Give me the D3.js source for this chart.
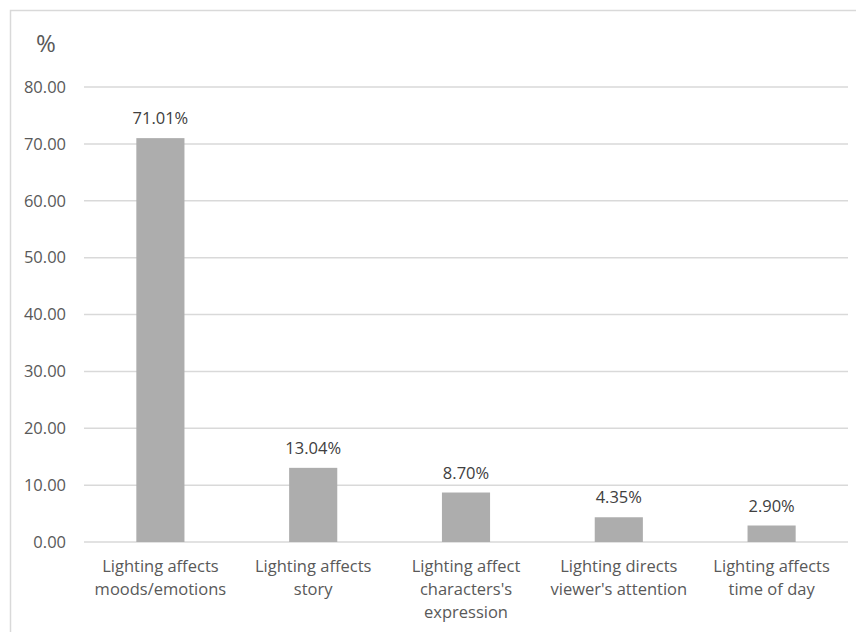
<!DOCTYPE html>
<html>
<head>
<meta charset="utf-8">
<script src="https://cdn.jsdelivr.net/npm/d3@7"></script>
<style>
  body { margin: 0; background: #fff; }
  svg { display: block; font-family: "Open Sans", "Noto Sans", sans-serif; }
</style>
</head>
<body>
<svg class="chart"></svg>
<script>
const categories = [
  ["Lighting affects", "moods/emotions"],
  ["Lighting affects", "story"],
  ["Lighting affect", "characters's", "expression"],
  ["Lighting directs", "viewer's attention"],
  ["Lighting affects", "time of day"]
];
const values = [71.01, 13.04, 8.70, 4.35, 2.90];
const yTicks = [0, 10, 20, 30, 40, 50, 60, 70, 80];

const W = 856, H = 632;
const margin = { top: 87, right: 8, bottom: 90, left: 84 },
      width = W - margin.left - margin.right,
      height = H - margin.top - margin.bottom;

const svg = d3.select(".chart")
    .attr("width", W)
    .attr("height", H);

// outer frame
svg.append("rect")
    .attr("x", 10.5).attr("y", 10.5)
    .attr("width", W + 10).attr("height", H + 10)
    .attr("fill", "none")
    .attr("stroke", "#d9d9d9")
    .attr("stroke-width", 1.5);

svg.append("text")
    .attr("x", 46).attr("y", 52)
    .attr("text-anchor", "middle")
    .attr("font-size", 24)
    .attr("fill", "#595959")
    .text("%");

const g = svg.append("g")
    .attr("transform", `translate(${margin.left}, ${margin.top})`);

const keys = categories.map((d, i) => i);

const x = d3.scaleBand()
    .range([0, width])
    .domain(keys)
    .paddingInner(0.685)
    .paddingOuter(0.3425);

const y = d3.scaleLinear()
    .domain([0, 80])
    .range([455, 0]);

// gridlines
g.selectAll(".grid")
    .data(yTicks)
    .enter().append("line")
    .attr("x1", 0).attr("x2", width)
    .attr("y1", d => y(d)).attr("y2", d => y(d))
    .attr("stroke", "#d9d9d9")
    .attr("stroke-width", 1.5);

// y tick labels
g.selectAll(".ytick")
    .data(yTicks)
    .enter().append("text")
    .attr("x", -18)
    .attr("y", d => y(d))
    .attr("dy", "0.35em")
    .attr("text-anchor", "end")
    .attr("font-size", 16.5)
    .attr("fill", "#595959")
    .text(d => d.toFixed(2));

// bars
g.selectAll(".bar")
    .data(values)
    .enter().append("rect")
    .attr("x", (d, i) => x(i))
    .attr("y", d => y(d))
    .attr("width", x.bandwidth())
    .attr("height", d => y(0) - y(d))
    .attr("fill", "#adadad");

// value labels
g.selectAll(".val")
    .data(values)
    .enter().append("text")
    .attr("x", (d, i) => x(i) + x.bandwidth() / 2)
    .attr("y", d => y(d) - 14)
    .attr("text-anchor", "middle")
    .attr("font-size", 16.5)
    .attr("fill", "#404040")
    .text(d => d.toFixed(2) + "%");

// category labels
const cat = g.selectAll(".cat")
    .data(categories)
    .enter().append("text")
    .attr("x", (d, i) => x(i) + x.bandwidth() / 2)
    .attr("y", y(0) + 30)
    .attr("text-anchor", "middle")
    .attr("font-size", 16.5)
    .attr("fill", "#595959");

cat.selectAll("tspan")
    .data(d => d)
    .enter().append("tspan")
    .attr("x", function() { return d3.select(this.parentNode).attr("x"); })
    .attr("dy", (d, i) => i === 0 ? 0 : 23)
    .text(d => d);
</script>
</body>
</html>
